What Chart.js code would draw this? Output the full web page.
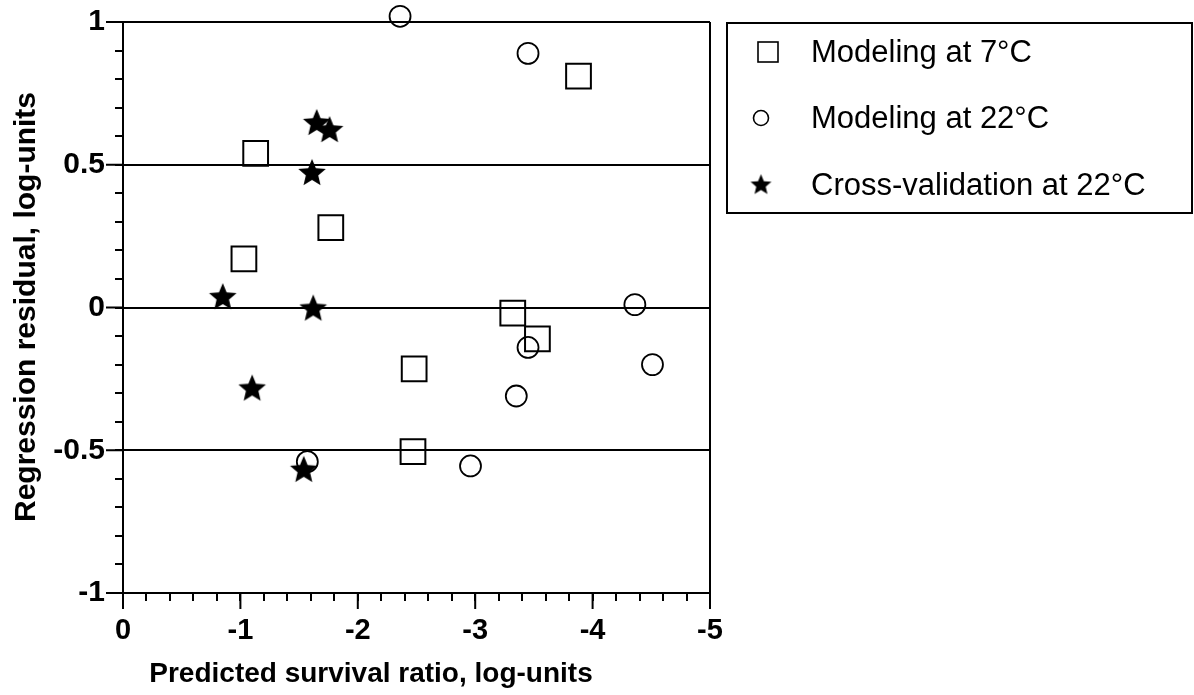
<!DOCTYPE html>
<html>
<head>
<meta charset="utf-8">
<script src="https://cdn.jsdelivr.net/npm/chart.js@4.4.1/dist/chart.umd.min.js"></script>
<style>
  html, body { margin: 0; padding: 0; background: #fff; }
</style>
</head>
<body>
<canvas id="residualChart" width="1194" height="695"></canvas>
<script>
// series names
const seriesLabels = ["Modeling at 7°C", "Modeling at 22°C", "Cross-validation at 22°C"];

// Modeling at 7°C (squares)
const model7X = [-3.88, -1.13, -1.77, -1.03, -3.32, -3.53, -2.48, -2.47];
const model7Y = [0.81, 0.54, 0.28, 0.17, -0.02, -0.11, -0.215, -0.505];

// Modeling at 22°C (open circles)
const model22X = [-2.36, -3.45, -4.36, -3.45, -4.51, -3.35, -2.96, -1.57];
const model22Y = [1.02, 0.89, 0.01, -0.14, -0.2, -0.31, -0.555, -0.54];

// Cross-validation at 22°C (filled stars)
const crossX = [-1.65, -1.76, -1.61, -0.85, -1.62, -1.1, -1.54];
const crossY = [0.65, 0.625, 0.475, 0.04, 0.0, -0.28, -0.565];

// labelled ticks
const xMajorTicks = [0, -1, -2, -3, -4, -5];
const xTickLabels = ["0", "-1", "-2", "-3", "-4", "-5"];
const yMajorTicks = [1, 0.5, 0, -0.5, -1];
const yTickLabels = ["1", "0.5", "0", "-0.5", "-1"];
// residual reference lines (plus the top frame)
const yRefLines = [1, 0.5, 0, -0.5];

const xTitle = "Predicted survival ratio, log-units";
const yTitle = "Regression residual, log-units";

const FONT = "'Liberation Sans', Arial, Helvetica, sans-serif";

const near = (a, b) => Math.abs(a - b) < 1e-6;
const toPoints = (xs, ys) => xs.map((x, i) => ({ x: x, y: ys[i] }));
function labelFor(v, majors, labels) {
  const i = majors.findIndex((m) => near(m, v));
  return i >= 0 ? labels[i] : "";
}

function makeStar(size) {
  const c = document.createElement("canvas");
  c.width = size;
  c.height = size;
  const g = c.getContext("2d");
  const cx = size / 2, cy = size / 2 + size * 0.05;
  const ro = size / 2 - 0.5, ri = ro * 0.45;
  g.beginPath();
  for (let i = 0; i < 10; i++) {
    const r = i % 2 ? ri : ro;
    const a = -Math.PI / 2 + (i * Math.PI) / 5;
    g.lineTo(cx + r * Math.cos(a), cy + r * Math.sin(a));
  }
  g.closePath();
  g.fillStyle = "#000";
  g.fill();
  return c;
}
const starBig = makeStar(30);
const starSmall = makeStar(23);

// frame ticks, axis titles and the boxed legend
const decorations = {
  id: "decorations",
  afterDraw(chart) {
    const ctx = chart.ctx;
    const xs = chart.scales.x, ys = chart.scales.y;
    const area = chart.chartArea;
    ctx.save();
    ctx.strokeStyle = "#000";
    ctx.fillStyle = "#000";
    ctx.lineWidth = 2;

    // longer ticks at labelled values
    ctx.beginPath();
    xMajorTicks.forEach((v) => {
      const px = xs.getPixelForValue(v);
      ctx.moveTo(px, area.bottom);
      ctx.lineTo(px, area.bottom + 16);
    });
    yMajorTicks.forEach((v) => {
      const py = ys.getPixelForValue(v);
      ctx.moveTo(area.left, py);
      ctx.lineTo(area.left - 17, py);
    });
    ctx.stroke();

    // axis titles
    ctx.font = "bold 28px " + FONT;
    ctx.textAlign = "center";
    ctx.textBaseline = "alphabetic";
    ctx.fillText(xTitle, 371, 682);
    ctx.font = "bold 30px " + FONT;
    ctx.save();
    ctx.translate(35, 307);
    ctx.rotate(-Math.PI / 2);
    ctx.fillText(yTitle, 0, 0);
    ctx.restore();

    // legend box
    ctx.strokeRect(727, 23, 465, 190);
    const rows = [52, 118, 185];
    ctx.font = "31px " + FONT;
    ctx.textAlign = "left";
    ctx.textBaseline = "middle";
    seriesLabels.forEach((label, i) => {
      const y = rows[i];
      ctx.lineWidth = 1.6;
      if (i === 0) {
        ctx.strokeRect(758, y - 10, 20, 20);
      } else if (i === 1) {
        ctx.beginPath();
        ctx.arc(761, y, 7.5, 0, Math.PI * 2);
        ctx.stroke();
      } else {
        ctx.drawImage(starSmall, 761 - 11.5, y - 12.5);
      }
      ctx.fillText(label, 811, y + 1);
    });
    ctx.restore();
  },
};

new Chart(document.getElementById("residualChart"), {
  type: "scatter",
  data: {
    datasets: [
      {
        label: seriesLabels[0],
        data: toPoints(model7X, model7Y),
        pointStyle: "rect",
        pointRadius: 17.5,
        pointHoverRadius: 17.5,
        borderColor: "#000",
        backgroundColor: "rgba(0,0,0,0)",
        borderWidth: 2,
        clip: false,
        order: 2,
      },
      {
        label: seriesLabels[1],
        data: toPoints(model22X, model22Y),
        pointStyle: "circle",
        pointRadius: 10.5,
        pointHoverRadius: 10.5,
        borderColor: "#000",
        backgroundColor: "rgba(0,0,0,0)",
        borderWidth: 1.8,
        clip: false,
        order: 1,
      },
      {
        label: seriesLabels[2],
        data: toPoints(crossX, crossY),
        pointStyle: starBig,
        pointRadius: 14,
        borderColor: "#000",
        backgroundColor: "#000",
        clip: false,
        order: 0,
      },
    ],
  },
  options: {
    responsive: false,
    animation: false,
    devicePixelRatio: 1,
    events: [],
    layout: { padding: { top: 22, right: 484, left: 0, bottom: 0 } },
    plugins: {
      legend: { display: false },
      tooltip: { enabled: false },
    },
    scales: {
      x: {
        type: "linear",
        min: -5,
        max: 0,
        reverse: true,
        ticks: {
          stepSize: 0.2,
          autoSkip: false,
          maxRotation: 0,
          color: "#000",
          font: { family: FONT, size: 29, weight: "bold" },
          padding: 13,
          callback: (v) => labelFor(v, xMajorTicks, xTickLabels),
        },
        grid: {
          color: (c) => (c.tick && near(c.tick.value, -5) ? "#000" : "rgba(0,0,0,0)"),
          lineWidth: 2,
          tickLength: 8,
          tickColor: "#000",
          tickWidth: 2,
        },
        border: { color: "#000", width: 2 },
        afterFit: (s) => {
          s.height = 102;
          s.paddingLeft = 0;
          s.paddingRight = 0;
        },
      },
      y: {
        type: "linear",
        min: -1,
        max: 1,
        ticks: {
          stepSize: 0.1,
          autoSkip: false,
          color: "#000",
          font: { family: FONT, size: 30, weight: "bold" },
          padding: 10,
          callback: (v) => labelFor(v, yMajorTicks, yTickLabels),
        },
        grid: {
          color: (c) => (c.tick && yRefLines.some((r) => near(r, c.tick.value)) ? "#000" : "rgba(0,0,0,0)"),
          lineWidth: 2,
          tickLength: 8,
          tickColor: "#000",
          tickWidth: 2,
        },
        border: { color: "#000", width: 2 },
        afterFit: (s) => {
          s.width = 123;
          s.paddingTop = 0;
          s.paddingBottom = 0;
        },
      },
    },
  },
  plugins: [decorations],
});
</script>
</body>
</html>
